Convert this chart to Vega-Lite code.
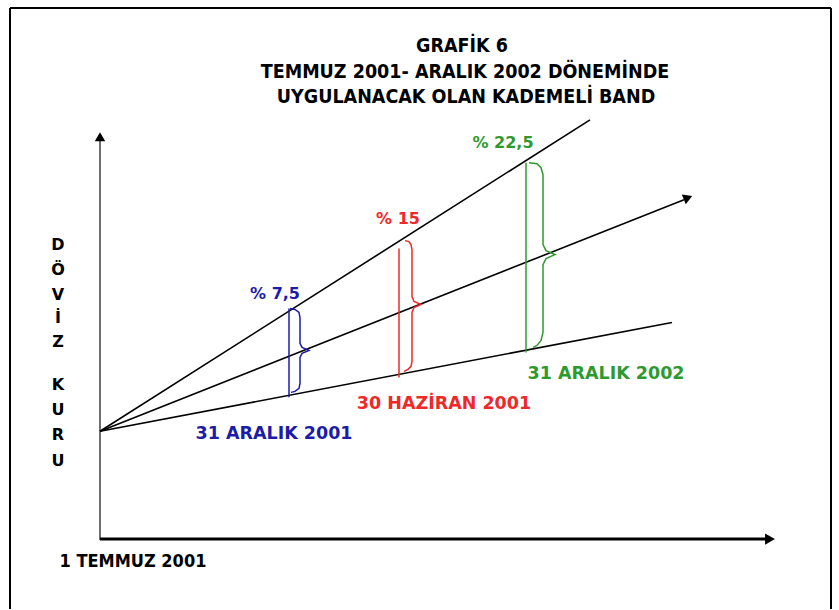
{
  "$schema": "https://vega.github.io/schema/vega-lite/v6.json",
  "width": 839,
  "height": 610,
  "autosize": {"type": "fit", "contains": "padding"},
  "padding": 0,
  "background": "white",
  "config": {"view": {"stroke": null}},
  "datasets": {
    "frame": [
      {"x": 10, "y": 610, "x2": 10, "y2": 8, "c": "k"},
      {"x": 10, "y": 8, "x2": 831, "y2": 8, "c": "k"},
      {"x": 831, "y": 8, "x2": 831, "y2": 610, "c": "k"}
    ],
    "yaxis": [{"x": 100, "y": 541, "x2": 100, "y2": 140, "c": "gray"}],
    "xaxis": [{"x": 100, "y": 540, "x2": 766, "y2": 540, "c": "k"}],
    "diag": [
      {"x": 100, "y": 432, "x2": 590, "y2": 120, "c": "k"},
      {"x": 100, "y": 432, "x2": 684, "y2": 200, "c": "k"},
      {"x": 100, "y": 432, "x2": 672, "y2": 323, "c": "k"}
    ],
    "verticals": [
      {"x": 289, "y": 309, "x2": 289, "y2": 398, "c": "b"},
      {"x": 399, "y": 249, "x2": 399, "y2": 378, "c": "r"},
      {"x": 526, "y": 163, "x2": 526, "y2": 353, "c": "g"}
    ],
    "braces": [
      {"g": "b", "c": "b", "i": 1, "x": 290, "y": 309},
      {"g": "b", "c": "b", "i": 2, "x": 295, "y": 310},
      {"g": "b", "c": "b", "i": 3, "x": 299, "y": 313},
      {"g": "b", "c": "b", "i": 4, "x": 300, "y": 318},
      {"g": "b", "c": "b", "i": 5, "x": 300, "y": 344},
      {"g": "b", "c": "b", "i": 6, "x": 302, "y": 348},
      {"g": "b", "c": "b", "i": 7, "x": 309, "y": 351},
      {"g": "b", "c": "b", "i": 8, "x": 302, "y": 354},
      {"g": "b", "c": "b", "i": 9, "x": 300, "y": 358},
      {"g": "b", "c": "b", "i": 10, "x": 300, "y": 384},
      {"g": "b", "c": "b", "i": 11, "x": 299, "y": 389},
      {"g": "b", "c": "b", "i": 12, "x": 295, "y": 392},
      {"g": "b", "c": "b", "i": 13, "x": 291, "y": 393},
      {"g": "r", "c": "r", "i": 1, "x": 405, "y": 241},
      {"g": "r", "c": "r", "i": 2, "x": 409, "y": 242},
      {"g": "r", "c": "r", "i": 3, "x": 411, "y": 245},
      {"g": "r", "c": "r", "i": 4, "x": 412, "y": 250},
      {"g": "r", "c": "r", "i": 5, "x": 412, "y": 297},
      {"g": "r", "c": "r", "i": 6, "x": 414, "y": 302},
      {"g": "r", "c": "r", "i": 7, "x": 421, "y": 305},
      {"g": "r", "c": "r", "i": 8, "x": 414, "y": 308},
      {"g": "r", "c": "r", "i": 9, "x": 412, "y": 313},
      {"g": "r", "c": "r", "i": 10, "x": 412, "y": 362},
      {"g": "r", "c": "r", "i": 11, "x": 411, "y": 367},
      {"g": "r", "c": "r", "i": 12, "x": 408, "y": 370},
      {"g": "r", "c": "r", "i": 13, "x": 404, "y": 372},
      {"g": "g", "c": "g", "i": 1, "x": 529, "y": 163},
      {"g": "g", "c": "g", "i": 2, "x": 537, "y": 164},
      {"g": "g", "c": "g", "i": 3, "x": 541, "y": 168},
      {"g": "g", "c": "g", "i": 4, "x": 543, "y": 175},
      {"g": "g", "c": "g", "i": 5, "x": 543, "y": 245},
      {"g": "g", "c": "g", "i": 6, "x": 546, "y": 251},
      {"g": "g", "c": "g", "i": 7, "x": 555, "y": 255},
      {"g": "g", "c": "g", "i": 8, "x": 546, "y": 259},
      {"g": "g", "c": "g", "i": 9, "x": 543, "y": 265},
      {"g": "g", "c": "g", "i": 10, "x": 543, "y": 333},
      {"g": "g", "c": "g", "i": 11, "x": 541, "y": 341},
      {"g": "g", "c": "g", "i": 12, "x": 537, "y": 346},
      {"g": "g", "c": "g", "i": 13, "x": 533, "y": 348}
    ],
    "arrowUp": [{"x": 100, "y": 137, "c": "k"}],
    "arrowRight": [{"x": 770, "y": 540, "c": "k"}],
    "arrowDiag": [{"x": 688, "y": 198, "c": "k"}],
    "titles": [
      {"x": 462, "y": 46, "t": "GRAFİK 6", "c": "k"},
      {"x": 465, "y": 72, "t": "TEMMUZ 2001- ARALIK 2002 DÖNEMİNDE", "c": "k"},
      {"x": 466, "y": 97, "t": "UYGULANACAK OLAN KADEMELİ BAND", "c": "k"}
    ],
    "origin": [{"x": 133, "y": 563, "t": "1 TEMMUZ 2001", "c": "k"}],
    "pct": [
      {"x": 275, "y": 294, "t": "% 7,5", "c": "b"},
      {"x": 398, "y": 219, "t": "% 15", "c": "r"},
      {"x": 503, "y": 143, "t": "% 22,5", "c": "g"}
    ],
    "dates": [
      {"x": 274, "y": 435, "t": "31 ARALIK 2001", "c": "b"},
      {"x": 444, "y": 405, "t": "30 HAZİRAN 2001", "c": "r"},
      {"x": 606, "y": 375, "t": "31 ARALIK 2002", "c": "g"}
    ],
    "ylabel": [
      {"x": 58, "y": 245, "t": "D", "c": "k"},
      {"x": 58, "y": 270, "t": "Ö", "c": "k"},
      {"x": 58, "y": 295, "t": "V", "c": "k"},
      {"x": 58, "y": 319, "t": "İ", "c": "k"},
      {"x": 58, "y": 343, "t": "Z", "c": "k"},
      {"x": 58, "y": 386, "t": "K", "c": "k"},
      {"x": 58, "y": 411, "t": "U", "c": "k"},
      {"x": 58, "y": 436, "t": "R", "c": "k"},
      {"x": 58, "y": 462, "t": "U", "c": "k"}
    ]
  },
  "encoding": {
    "x": {"field": "x", "type": "quantitative", "scale": {"domain": [0, 839], "nice": false, "zero": false}, "axis": null},
    "y": {"field": "y", "type": "quantitative", "scale": {"domain": [0, 610], "nice": false, "zero": false, "reverse": true}, "axis": null},
    "color": {"field": "c", "type": "nominal", "scale": {"domain": ["k", "b", "r", "g", "gray"], "range": ["#000000", "#1c1ca8", "#f02828", "#2e9a2e", "#707070"]}, "legend": null}
  },
  "layer": [
    {"data": {"name": "frame"}, "mark": {"type": "rule", "strokeWidth": 2}, "encoding": {"x2": {"field": "x2"}, "y2": {"field": "y2"}}},
    {"data": {"name": "yaxis"}, "mark": {"type": "rule", "strokeWidth": 2}, "encoding": {"x2": {"field": "x2"}, "y2": {"field": "y2"}}},
    {"data": {"name": "xaxis"}, "mark": {"type": "rule", "strokeWidth": 3}, "encoding": {"x2": {"field": "x2"}, "y2": {"field": "y2"}}},
    {"data": {"name": "diag"}, "mark": {"type": "rule", "strokeWidth": 1.6}, "encoding": {"x2": {"field": "x2"}, "y2": {"field": "y2"}}},
    {"data": {"name": "verticals"}, "mark": {"type": "rule", "strokeWidth": 1.5}, "encoding": {"x2": {"field": "x2"}, "y2": {"field": "y2"}}},
    {"data": {"name": "braces"}, "mark": {"type": "line", "strokeWidth": 1.5, "interpolate": "linear"}, "encoding": {"detail": {"field": "g"}, "order": {"field": "i", "type": "quantitative"}}},
    {"data": {"name": "arrowUp"}, "mark": {"type": "point", "shape": "triangle-up", "filled": true, "size": 110, "opacity": 1}},
    {"data": {"name": "arrowRight"}, "mark": {"type": "point", "shape": "triangle-right", "filled": true, "size": 130, "opacity": 1}},
    {"data": {"name": "arrowDiag"}, "mark": {"type": "point", "shape": "triangle-right", "filled": true, "size": 110, "opacity": 1, "angle": -22}},
    {"data": {"name": "titles"}, "mark": {"type": "text", "font": "DejaVu Sans Condensed, Liberation Sans", "fontWeight": "bold", "fontSize": 19.5, "align": "center", "baseline": "middle"}, "encoding": {"text": {"field": "t"}}},
    {"data": {"name": "origin"}, "mark": {"type": "text", "font": "DejaVu Sans Condensed, Liberation Sans", "fontWeight": "bold", "fontSize": 18, "align": "center", "baseline": "middle"}, "encoding": {"text": {"field": "t"}}},
    {"data": {"name": "pct"}, "mark": {"type": "text", "font": "DejaVu Sans, Liberation Sans", "fontWeight": "bold", "fontSize": 16, "align": "center", "baseline": "middle"}, "encoding": {"text": {"field": "t"}}},
    {"data": {"name": "dates"}, "mark": {"type": "text", "font": "DejaVu Sans, Liberation Sans", "fontWeight": "bold", "fontSize": 17.5, "align": "center", "baseline": "middle"}, "encoding": {"text": {"field": "t"}}},
    {"data": {"name": "ylabel"}, "mark": {"type": "text", "font": "DejaVu Sans, Liberation Sans", "fontWeight": "bold", "fontSize": 16, "align": "center", "baseline": "middle"}, "encoding": {"text": {"field": "t"}}}
  ]
}
